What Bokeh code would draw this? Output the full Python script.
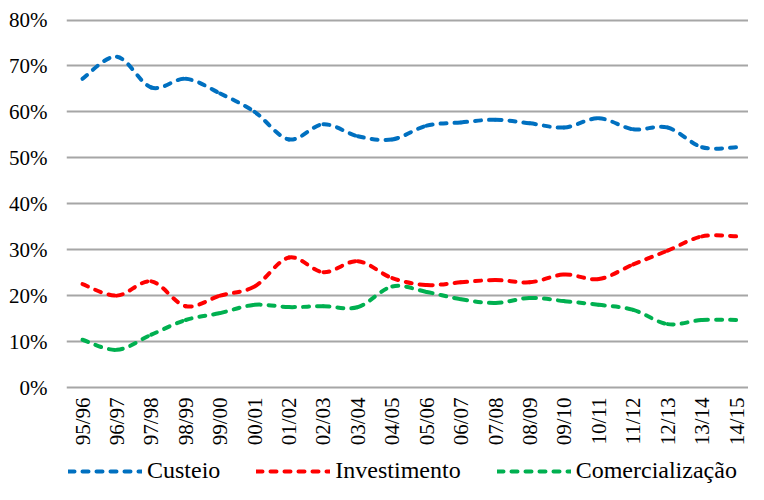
from bokeh.plotting import figure
from bokeh.models import (Range1d, FixedTicker, PrintfTickFormatter, Legend, LegendItem,
                          ColumnDataSource)
from bokeh.core.properties import value
from bokeh.embed import file_html
from bokeh.resources import INLINE
import math

seasons = ["95/96", "96/97", "97/98", "98/99", "99/00", "00/01", "01/02", "02/03", "03/04",
           "04/05", "05/06", "06/07", "07/08", "08/09", "09/10", "10/11", "11/12", "12/13",
           "13/14", "14/15"]
custeio = [67.2, 72.0, 65.3, 67.2, 64.0, 60.0, 54.0, 57.3, 54.7, 54.0,
           57.0, 57.7, 58.3, 57.5, 56.6, 58.6, 56.2, 56.6, 52.3, 52.3]
investimento = [22.5, 20.0, 23.1, 17.7, 20.0, 22.0, 28.3, 25.1, 27.5, 23.8,
                22.3, 22.9, 23.4, 22.9, 24.6, 23.6, 26.8, 29.8, 32.9, 32.9]
comercializacao = [10.4, 8.2, 11.5, 14.7, 16.2, 18.0, 17.5, 17.7, 17.5, 22.0,
                   20.8, 19.2, 18.4, 19.5, 18.8, 18.0, 16.9, 13.8, 14.7, 14.7]
y_ticks = [0, 10, 20, 30, 40, 50, 60, 70, 80]

series = [("Custeio", custeio, "#0070C0"),
          ("Investimento", investimento, "#FF0000"),
          ("Comercialização", comercializacao, "#00B050")]

FONT = "'Liberation Serif', 'Times New Roman', serif"

# layout (pixels)
W, H = 748, 484
TOP, LEFT = 18, 66
Y_TOP_PX, Y_ZERO_PX = 19.5, 387.0      # pixel rows of the 80% and 0% gridlines
X_FIRST_PX, X_LAST_PX = 82.0, 736.0    # pixel columns of the first and last category
px_per_unit = (Y_ZERO_PX - Y_TOP_PX) / 80.0
frame_h = H - TOP
y_end = 80 + (Y_TOP_PX - TOP) / px_per_unit
y_start = y_end - frame_h / px_per_unit
n_cat = len(seasons)
px_per_cat = (X_LAST_PX - X_FIRST_PX) / (n_cat - 1)
x_start = -(X_FIRST_PX - LEFT) / px_per_cat
x_end = x_start + (W - LEFT) / px_per_cat

p = figure(width=W, height=H, output_backend="svg", toolbar_location=None,
           x_range=Range1d(x_start, x_end), y_range=Range1d(y_start, y_end),
           min_border_left=LEFT, min_border_right=0, min_border_top=TOP, min_border_bottom=0)
p.outline_line_color = None
p.background_fill_color = "white"
p.border_fill_color = "white"

p.xaxis.visible = False
p.yaxis.ticker = FixedTicker(ticks=y_ticks)
p.yaxis.formatter = PrintfTickFormatter(format="%d%%")
ax = p.yaxis[0]
ax.axis_line_color = None
ax.major_tick_line_color = None
ax.minor_tick_line_color = None
ax.major_tick_out = 0
ax.major_tick_in = 0
ax.major_label_text_font = FONT
ax.major_label_text_font_size = "21px"
ax.major_label_text_color = "#000000"
ax.major_label_standoff = 19
p.xgrid.grid_line_color = None
p.ygrid.ticker = FixedTicker(ticks=y_ticks)
p.ygrid.grid_line_color = "#A6A6A6"
p.ygrid.grid_line_width = 2

xs = list(range(n_cat))
# category labels, rotated, hanging below the 0% line
p.text(x=xs, y=[0] * n_cat, text=seasons, angle=math.pi / 2,
       text_align="right", text_baseline="middle", y_offset=10,
       text_font=value(FONT), text_font_size="21px", text_color="#000000")

DASH = "6 8"
items = []
for name, vals, col in series:
    n = len(vals)
    x0, y0, x1, y1, cx0, cy0, cx1, cy1 = [], [], [], [], [], [], [], []
    for i in range(n - 1):
        pm = max(i - 1, 0)
        pp = min(i + 2, n - 1)
        x0.append(xs[i]); y0.append(vals[i])
        x1.append(xs[i + 1]); y1.append(vals[i + 1])
        cx0.append(xs[i] + (xs[i + 1] - xs[pm]) / 6.0)
        cy0.append(vals[i] + (vals[i + 1] - vals[pm]) / 6.0)
        cx1.append(xs[i + 1] - (xs[pp] - xs[i]) / 6.0)
        cy1.append(vals[i + 1] - (vals[pp] - vals[i]) / 6.0)
    src = ColumnDataSource(dict(x0=x0, y0=y0, x1=x1, y1=y1, cx0=cx0, cy0=cy0, cx1=cx1, cy1=cy1))
    r = p.bezier(x0="x0", y0="y0", x1="x1", y1="y1", cx0="cx0", cy0="cy0", cx1="cx1", cy1="cy1",
                 source=src, line_color=col, line_width=4, line_dash=DASH, line_cap="round")
    items.append(LegendItem(label=name, renderers=[r]))

legend = Legend(items=items, orientation="horizontal", location=(2, 0),
                glyph_width=74, glyph_height=20, label_standoff=5, spacing=36,
                padding=0, margin=0, border_line_color=None, background_fill_alpha=0,
                label_text_font=FONT, label_text_font_size="24px", label_text_color="#000000")
p.add_layout(legend)

open("out.html", "w").write(file_html(p, INLINE))
